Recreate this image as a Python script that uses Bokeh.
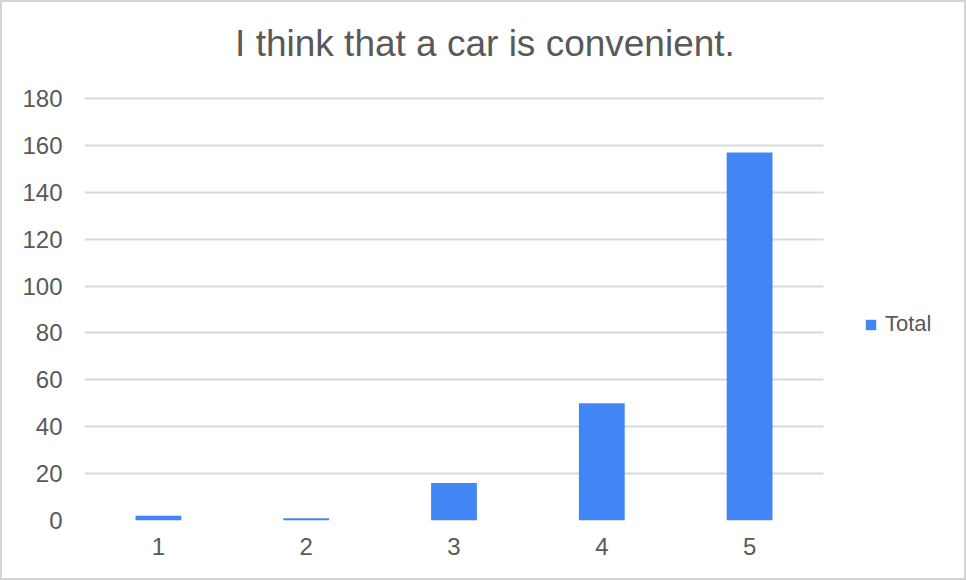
from bokeh.plotting import figure
from bokeh.models import (ColumnDataSource, Range1d, FixedTicker,
                          Label, Legend, LegendItem)
from bokeh.embed import file_html
from bokeh.resources import INLINE

# Survey answers (1 = disagree ... 5 = agree) and the number of responses
answers = [1, 2, 3, 4, 5]
totals = [2, 1, 16, 50, 157]
y_ticks = [0, 20, 40, 60, 80, 100, 120, 140, 160, 180]

title_text = "I think that a car is convenient."
series_name = "Total"

FONT = "Liberation Sans"
TEXT_COLOR = "#595959"
BAR_COLOR = "#4285f4"
GRID_COLOR = "#d9d9d9"

source = ColumnDataSource(data=dict(answer=answers, total=totals))

# The plot area also holds the title band above and the legend strip on the
# right: answers take 147.8 px each, values 422 px per 180.
PX_PER_ANSWER = 147.8
PX_PER_UNIT = 422 / 180
x_end = 5.5 + 141 / PX_PER_ANSWER
y_top = 514 / PX_PER_UNIT

p = figure(
    width=966, height=580,
    x_range=Range1d(0.5, x_end),
    y_range=Range1d(0, y_top),
    output_backend="svg", toolbar_location=None,
    min_border_left=82, min_border_right=4,
    min_border_top=4, min_border_bottom=62,
    styles={"border": "2px solid #d4d4d4"},
)
p.outline_line_color = None
p.background_fill_color = "white"
p.border_fill_color = "white"

bars = p.vbar(x="answer", top="total", width=0.31, source=source,
              fill_color=BAR_COLOR, line_color=None)

# Axes: labels only, no lines or ticks
p.xaxis.ticker = FixedTicker(ticks=answers)
p.yaxis.ticker = FixedTicker(ticks=y_ticks)
for ax in (p.xaxis[0], p.yaxis[0]):
    ax.axis_line_color = None
    ax.major_tick_line_color = None
    ax.minor_tick_line_color = None
    ax.major_tick_out = 0
    ax.major_tick_in = 0
    ax.major_label_text_font = FONT
    ax.major_label_text_font_size = "24px"
    ax.major_label_text_color = TEXT_COLOR
p.yaxis.major_label_standoff = 22
p.xaxis.major_label_standoff = 17

# Horizontal grid lines only across the answers, not under the legend
p.xgrid.grid_line_color = None
p.ygrid.grid_line_color = GRID_COLOR
p.ygrid.grid_line_width = 2
p.ygrid.cross_bounds = (0.5, 5.5)

# Chart title, centred over the chart
p.add_layout(Label(
    x=400.5, y=477, x_units="screen", y_units="screen",
    text=title_text, text_font=FONT, text_font_size="37px",
    text_color=TEXT_COLOR, text_align="center", text_baseline="middle",
))

# Legend in the strip to the right of the bars
legend = Legend(
    items=[LegendItem(label=series_name, renderers=[bars])],
    location=(780, 183),
    glyph_width=13, glyph_height=13, label_standoff=8,
    label_text_font=FONT, label_text_font_size="22px",
    label_text_color=TEXT_COLOR,
    border_line_color=None, background_fill_alpha=0,
    padding=0, margin=0, spacing=0,
)
p.add_layout(legend, "center")

open("out.html", "w").write(file_html(p, INLINE))
